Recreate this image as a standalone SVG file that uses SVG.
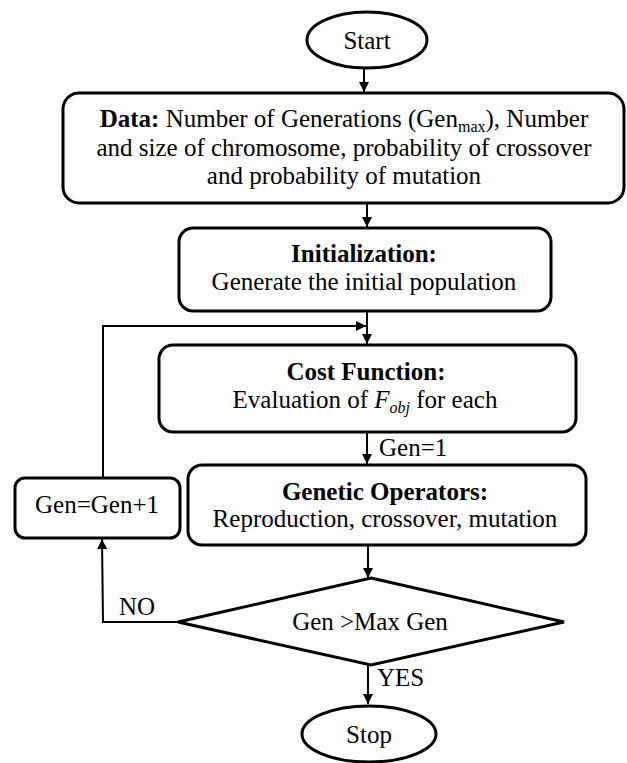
<svg xmlns="http://www.w3.org/2000/svg" width="627" height="763" viewBox="0 0 627 763">
<defs>
<style>
.box{fill:#fff;stroke:#000;stroke-width:3}
.ln{fill:none;stroke:#000;stroke-width:2}
text{font-family:"Liberation Serif","Times New Roman",serif;font-size:25px;fill:#000}
.c{text-anchor:middle}
.b{font-weight:bold}
</style>
<marker id="ah" viewBox="0 0 10 10" refX="10" refY="5" markerWidth="10" markerHeight="10" markerUnits="userSpaceOnUse" orient="auto">
<path d="M0,0 L10,5 L0,10 z" fill="#000"/>
</marker>
</defs>
<rect width="627" height="763" fill="#fff"/>
<g id="connectors">
<line class="ln" x1="364" y1="68" x2="364" y2="92" marker-end="url(#ah)"/>
<line class="ln" x1="367" y1="203" x2="367" y2="227" marker-end="url(#ah)"/>
<line class="ln" x1="367" y1="311" x2="367" y2="344" marker-end="url(#ah)"/>
<polyline class="ln" points="103,478 103,326 366,326" marker-end="url(#ah)"/>
<line class="ln" x1="367" y1="432" x2="367" y2="464" marker-end="url(#ah)"/>
<text x="379" y="456">Gen=1</text>
<line class="ln" x1="368" y1="545" x2="368" y2="578" marker-end="url(#ah)"/>
<polyline class="ln" points="178,622 103,622 102,539" marker-end="url(#ah)"/>
<text x="119" y="615">NO</text>
<line class="ln" x1="368" y1="665" x2="368" y2="704" marker-end="url(#ah)"/>
<text x="377" y="686">YES</text>
</g>
<g id="start">
<ellipse class="box" cx="367" cy="40" rx="60" ry="28"/>
<text class="c" x="367" y="49">Start</text>
</g>
<g id="data">
<rect class="box" x="63" y="93" width="561" height="110" rx="16"/>
<text class="c" x="344" y="127"><tspan class="b">Data:</tspan> Number of Generations (Gen<tspan font-size="16" dy="5">max</tspan><tspan dy="-5">), Number</tspan></text>
<text class="c" x="344" y="156">and size of chromosome, probability of crossover</text>
<text class="c" x="344" y="184">and probability of mutation</text>
</g>
<g id="init">
<rect class="box" x="179" y="228" width="372" height="83" rx="14"/>
<text class="c b" x="364" y="262">Initialization:</text>
<text class="c" x="364" y="290">Generate the initial population</text>
</g>
<g id="cost">
<rect class="box" x="159" y="345" width="417" height="87" rx="14"/>
<text class="c b" x="366" y="380">Cost Function:</text>
<text class="c" x="365" y="408">Evaluation of <tspan font-style="italic">F</tspan><tspan font-style="italic" font-size="16" dy="5">obj</tspan><tspan dy="-5"> for each</tspan></text>
</g>
<g id="genetic">
<rect class="box" x="188" y="465" width="398" height="80" rx="14"/>
<text class="c b" x="385" y="500">Genetic Operators:</text>
<text class="c" x="385" y="527">Reproduction, crossover, mutation</text>
</g>
<g id="inc">
<rect class="box" x="15" y="478" width="165" height="60" rx="10"/>
<text class="c" x="97" y="513">Gen=Gen+1</text>
</g>
<g id="decision">
<polygon class="box" points="371,578 564,622 371,665 178,622"/>
<text class="c" x="370" y="630">Gen &gt;Max Gen</text>
</g>
<g id="stop">
<ellipse class="box" cx="369" cy="734" rx="67" ry="28"/>
<text class="c" x="369" y="743">Stop</text>
</g>
</svg>
